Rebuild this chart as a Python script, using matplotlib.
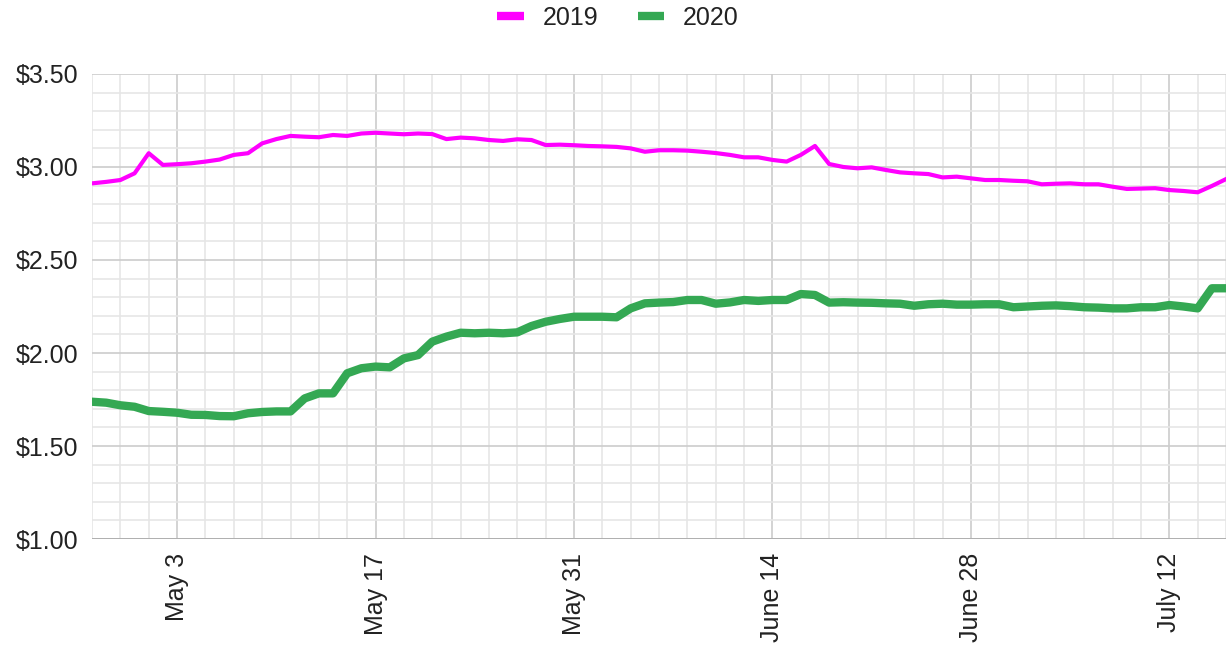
import matplotlib
matplotlib.use("Agg")
import matplotlib.pyplot as plt
import matplotlib.dates as mdates
from matplotlib.ticker import MultipleLocator, FuncFormatter, FixedLocator
import pandas as pd

plt.rcParams['font.family'] = ['Liberation Sans', 'DejaVu Sans']

# daily dates shown on the x axis
start_day = "2020-04-27"
end_day = "2020-07-16"

# average price per gallon, one value per day (Apr 27 - Jul 16)
prices_2019 = [
    2.912, 2.920, 2.930, 2.966,
    3.074, 3.011, 3.015, 3.020, 3.029, 3.040, 3.065, 3.074, 3.127, 3.150,
    3.167, 3.163, 3.160, 3.172, 3.167, 3.180, 3.184, 3.180, 3.176, 3.180,
    3.177, 3.150, 3.158, 3.154, 3.145, 3.140, 3.149, 3.145, 3.118, 3.120,
    3.117,
    3.113, 3.111, 3.108, 3.100, 3.082, 3.090, 3.090, 3.088, 3.082, 3.075,
    3.065, 3.052, 3.052, 3.038, 3.029, 3.065, 3.113, 3.016, 3.000, 2.993,
    2.998, 2.984, 2.971, 2.966, 2.962, 2.944, 2.948, 2.939, 2.930, 2.930,
    2.926, 2.923, 2.907, 2.910, 2.912, 2.907, 2.907, 2.894, 2.882, 2.884,
    2.886, 2.876, 2.871, 2.864, 2.898, 2.935,
]
prices_2020 = [
    1.738, 1.733, 1.719, 1.711,
    1.688, 1.684, 1.679, 1.668, 1.667, 1.661, 1.660, 1.676, 1.683, 1.686,
    1.686, 1.756, 1.783, 1.783, 1.891, 1.918, 1.927, 1.923, 1.971, 1.989,
    2.061, 2.088, 2.109, 2.106, 2.109, 2.106, 2.111, 2.145, 2.168, 2.183,
    2.195,
    2.195, 2.195, 2.192, 2.240, 2.267, 2.271, 2.274, 2.285, 2.285, 2.265,
    2.272, 2.285, 2.280, 2.285, 2.285, 2.317, 2.312, 2.271, 2.273, 2.271,
    2.270, 2.267, 2.265, 2.254, 2.262, 2.265, 2.260, 2.260, 2.262, 2.262,
    2.246, 2.250, 2.254, 2.256, 2.252, 2.246, 2.244, 2.240, 2.240, 2.246,
    2.246, 2.258, 2.250, 2.240, 2.348, 2.348,
]
tick_days = ["2020-05-03", "2020-05-17", "2020-05-31",
             "2020-06-14", "2020-06-28", "2020-07-12"]
tick_labels = ["May 3", "May 17", "May 31", "June 14", "June 28", "July 12"]

days = pd.date_range(start_day, end_day, freq="D")

fig = plt.figure(figsize=(12.29, 6.45), dpi=100)
ax = fig.add_axes([0.0749, 0.1643, 0.9227, 0.721])

ax.plot(days, prices_2019, color="#ff00ff", lw=3.0, label="2019",
        solid_joinstyle="round", zorder=3)
ax.plot(days, prices_2020, color="#34a853", lw=6.0, label="2020",
        solid_joinstyle="round", zorder=4)

ax.set_xlim(days[0], days[-1])
ax.set_ylim(1.0, 3.5)

ax.yaxis.set_major_locator(MultipleLocator(0.5))
ax.yaxis.set_minor_locator(MultipleLocator(0.1))
ax.yaxis.set_major_formatter(FuncFormatter(lambda v, p: "${:.2f}".format(v)))

ax.set_xticks(pd.to_datetime(tick_days))
ax.set_xticklabels(tick_labels, rotation=90, va="top", ha="center")
# minor gridlines every second day, lined up with the labelled days
ax.xaxis.set_minor_locator(FixedLocator(mdates.date2num(days[::2])))

ax.grid(which="major", color="#cccccc", lw=1.2, zorder=0)
ax.grid(which="minor", color="#e6e6e6", lw=1.2, zorder=0)
ax.set_axisbelow(True)
for s in ax.spines.values():
    s.set_visible(False)
ax.axhline(1.0, color="#b0b0b0", lw=1.4, zorder=2)

ax.tick_params(which="both", length=0)
ax.tick_params(axis="y", labelsize=18, pad=10, labelcolor="#222222")
ax.tick_params(axis="x", labelsize=18, pad=10, labelcolor="#222222")

leg = fig.legend(loc="center", bbox_to_anchor=(0.503, 0.972), ncol=2,
                 frameon=False, fontsize=18, handlelength=1.05,
                 handletextpad=0.75, columnspacing=1.6, labelcolor="#222222")
for h in leg.get_lines():
    h.set_linewidth(6.0)
    h.set_solid_capstyle("butt")

fig.savefig("out.png", dpi=100)
